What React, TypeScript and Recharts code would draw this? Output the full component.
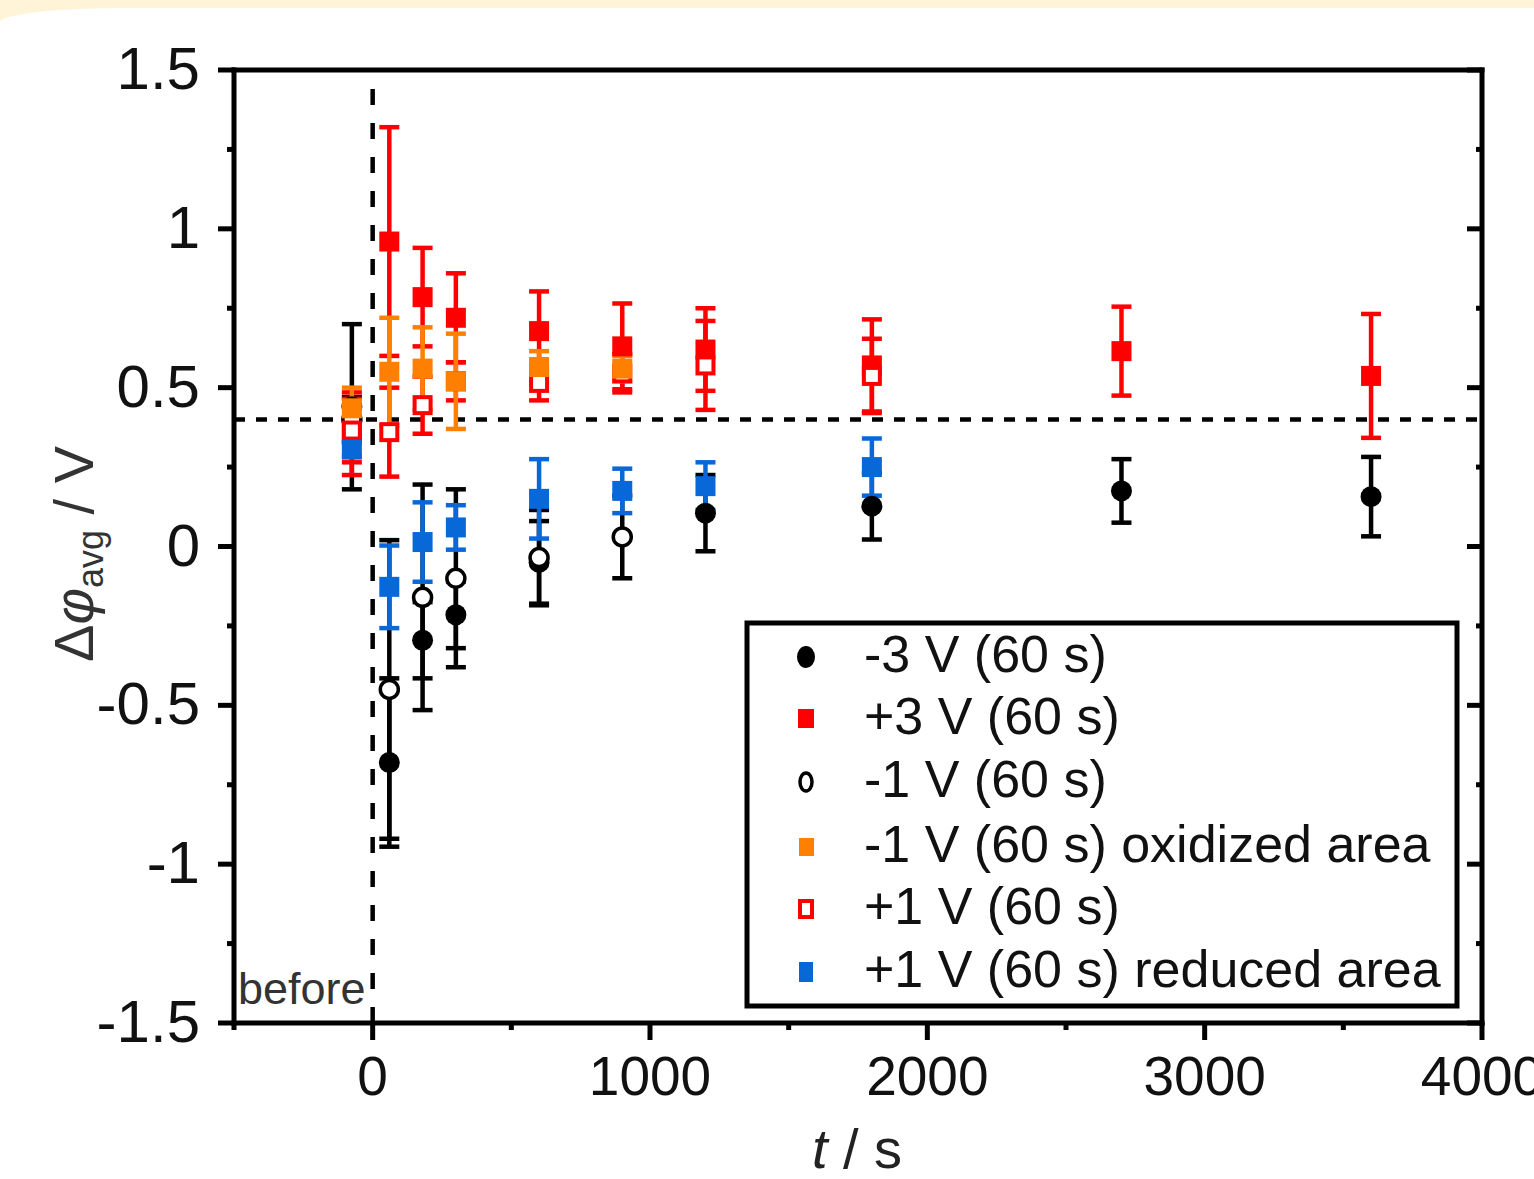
import { ScatterChart, Scatter, XAxis, YAxis, ErrorBar, ReferenceLine } from 'recharts';

// time after the voltage pulse (s); -75 is the "before" measurement
const tNeg3 = [-75, 60, 180, 300, 600, 1200, 1800, 2700, 3600];
const vNeg3 = [0.44, -0.68, -0.295, -0.215, -0.05, 0.105, 0.127, 0.175, 0.157];
const eNeg3 = [0.26, 0.265, 0.12, 0.105, 0.13, 0.12, 0.105, 0.1, 0.125];

const tPos3 = [-75, 60, 180, 300, 600, 900, 1200, 1800, 2700, 3600];
const vPos3 = [0.355, 0.96, 0.785, 0.72, 0.678, 0.63, 0.62, 0.57, 0.615, 0.537];
const ePos3 = [0.13, 0.36, 0.155, 0.14, 0.125, 0.135, 0.13, 0.145, 0.14, 0.195];

const tNeg1 = [-75, 60, 180, 300, 600, 900];
const vNeg1 = [0.4, -0.45, -0.16, -0.1, -0.035, 0.03];
const eNeg1 = [0.07, 0.47, 0.355, 0.28, 0.15, 0.13];

const tNeg1Ox = [-75, 60, 180, 300, 600, 900];
const vNeg1Ox = [0.435, 0.55, 0.56, 0.52, 0.565, 0.56];
const eNeg1Ox = [0.065, 0.17, 0.13, 0.15, 0.05, 0.04];

const tPos1 = [-75, 60, 180, 300, 600, 900, 1200, 1800];
const vPos1 = [0.365, 0.36, 0.445, 0.52, 0.515, 0.545, 0.57, 0.537];
const ePos1 = [0.1, 0.14, 0.09, 0.06, 0.055, 0.06, 0.14, 0.117];

const tPos1Red = [-75, 60, 180, 300, 600, 900, 1200, 1800];
const vPos1Red = [0.305, -0.127, 0.014, 0.06, 0.15, 0.175, 0.19, 0.25];
const ePos1Red = [0.02, 0.13, 0.125, 0.07, 0.125, 0.07, 0.075, 0.09];

const xTicks = [-500, 0, 500, 1000, 1500, 2000, 2500, 3000, 3500, 4000];
const yTicks = [-1.5, -1.25, -1, -0.75, -0.5, -0.25, 0, 0.25, 0.5, 0.75, 1, 1.25, 1.5];

const legendLabels = [
  '-3 V (60 s)',
  '+3 V (60 s)',
  '-1 V (60 s)',
  '-1 V (60 s) oxidized area',
  '+1 V (60 s)',
  '+1 V (60 s) reduced area',
];

const RED = '#ff0000';
const ORANGE = '#ff8000';
const BLUE = '#0868d8';
const FONT = '"Liberation Sans", Arial, sans-serif';
const BAR_W = 4.5;

const zip = (t: number[], v: number[], e: number[]) => t.map((x, i) => ({ t: x, v: v[i], e: e[i] }));

const filledSquare = (color: string) => (p: any) =>
  p.cx == null ? <g /> : <rect x={p.cx - 10} y={p.cy - 10} width={20} height={20} fill={color} />;
const openSquare = (color: string) => (p: any) =>
  p.cx == null ? <g /> : (
    <rect x={p.cx - 8} y={p.cy - 8} width={16} height={16} fill="#fff" stroke={color} strokeWidth={4} />
  );
const filledCircle = (p: any) => (p.cx == null ? <g /> : <circle cx={p.cx} cy={p.cy} r={10.5} fill="#000" />);
const openCircle = (p: any) =>
  p.cx == null ? <g /> : <circle cx={p.cx} cy={p.cy} r={9} fill="#fff" stroke="#000" strokeWidth={3.5} />;

const isMajorX = (v: number) => v % 1000 === 0;
const isMajorY = (v: number) => Math.abs(v * 2 - Math.round(v * 2)) < 1e-9;

const BottomTick = ({ x, y, payload }: any) => {
  const major = isMajorX(payload.value);
  return (
    <g>
      <line x1={x} y1={y} x2={x} y2={y + (major ? 17 : 7)} stroke="#000" strokeWidth={5} />
      {major && (
        <text x={x} y={y + 72} textAnchor="middle" fontSize={55} fontFamily={FONT} fill="#111">
          {payload.value}
        </text>
      )}
    </g>
  );
};

const TopTick = ({ x, y, payload }: any) => (
  <line x1={x} y1={y} x2={x} y2={y + (isMajorX(payload.value) ? 15 : 6)} stroke="#000" strokeWidth={5} />
);

const LeftTick = ({ x, y, payload }: any) => {
  const major = isMajorY(payload.value);
  return (
    <g>
      <line x1={x} y1={y} x2={x - (major ? 16 : 7)} y2={y} stroke="#000" strokeWidth={5} />
      {major && (
        <text x={x - 34} y={y + 19} textAnchor="end" fontSize={60} fontFamily={FONT} fill="#111">
          {String(payload.value)}
        </text>
      )}
    </g>
  );
};

const RightTick = ({ x, y, payload }: any) => (
  <line x1={x} y1={y} x2={x - (isMajorY(payload.value) ? 15 : 6)} y2={y} stroke="#000" strokeWidth={5} />
);

const axisLine = { stroke: '#000', strokeWidth: 5, strokeLinecap: 'square' as const };

const LegendMarker = ({ i, cx, cy }: { i: number; cx: number; cy: number }) => {
  if (i === 0) return <ellipse cx={cx} cy={cy} rx={9} ry={11} fill="#000" />;
  if (i === 1) return <rect x={cx - 8} y={cy - 10} width={16} height={19} fill={RED} />;
  if (i === 2) return <ellipse cx={cx} cy={cy} rx={6} ry={9} fill="#fff" stroke="#000" strokeWidth={3.5} />;
  if (i === 3) return <rect x={cx - 7} y={cy - 9} width={15} height={18} fill={ORANGE} />;
  if (i === 4) return <rect x={cx - 6} y={cy - 8} width={12} height={16} fill="#fff" stroke={RED} strokeWidth={4} />;
  return <rect x={cx - 7} y={cy - 10} width={14} height={20} fill={BLUE} />;
};

const legendRows = [654, 716, 779, 844, 906, 969];

export default function App() {
  return (
    <div
      style={{
        position: 'absolute',
        left: 0,
        top: 0,
        width: 1534,
        height: 1179,
        background: '#fff4d8',
        overflow: 'hidden',
      }}
    >
      <div
        style={{
          position: 'absolute',
          left: 0,
          top: 8,
          width: 1534,
          height: 1171,
          background: '#fff',
          borderTopLeftRadius: '130px 14px',
        }}
      />
      <div style={{ position: 'absolute', left: 0, top: 0 }}>
        <ScatterChart width={1534} height={1179} margin={{ top: 69, right: 51, bottom: 155, left: 233 }}>
          <XAxis
            dataKey="t"
            type="number"
            domain={[-500, 4000]}
            ticks={xTicks}
            interval={0}
            height={1}
            tickSize={0}
            tickMargin={0}
            tickLine={false}
            axisLine={axisLine}
            tick={<BottomTick />}
            allowDataOverflow
          />
          <XAxis
            xAxisId="top"
            orientation="top"
            type="number"
            domain={[-500, 4000]}
            ticks={xTicks}
            interval={0}
            height={1}
            tickSize={0}
            tickMargin={0}
            tickLine={false}
            axisLine={axisLine}
            tick={<TopTick />}
            allowDataOverflow
          />
          <YAxis
            dataKey="v"
            type="number"
            domain={[-1.5, 1.5]}
            ticks={yTicks}
            interval={0}
            width={1}
            tickSize={0}
            tickMargin={0}
            tickLine={false}
            axisLine={axisLine}
            tick={<LeftTick />}
            allowDataOverflow
          />
          <YAxis
            yAxisId="right"
            orientation="right"
            type="number"
            domain={[-1.5, 1.5]}
            ticks={yTicks}
            interval={0}
            width={1}
            tickSize={0}
            tickMargin={0}
            tickLine={false}
            axisLine={axisLine}
            tick={<RightTick />}
            allowDataOverflow
          />
          <ReferenceLine y={0.4} stroke="#000" strokeWidth={4.5} strokeDasharray="11 11" />
          <ReferenceLine x={0} stroke="#000" strokeWidth={4.5} strokeDasharray="16 18" />

          <Scatter data={zip(tNeg3, vNeg3, eNeg3)} dataKey="v" shape={filledCircle} isAnimationActive={false}>
            <ErrorBar dataKey="e" direction="y" width={10} stroke="#000" strokeWidth={BAR_W} />
          </Scatter>
          <Scatter data={zip(tNeg1, vNeg1, eNeg1)} dataKey="v" shape={openCircle} isAnimationActive={false}>
            <ErrorBar dataKey="e" direction="y" width={10} stroke="#000" strokeWidth={BAR_W} />
          </Scatter>
          <Scatter data={zip(tPos3, vPos3, ePos3)} dataKey="v" shape={filledSquare(RED)} isAnimationActive={false}>
            <ErrorBar dataKey="e" direction="y" width={10} stroke={RED} strokeWidth={BAR_W} />
          </Scatter>
          <Scatter data={zip(tPos1, vPos1, ePos1)} dataKey="v" shape={openSquare(RED)} isAnimationActive={false}>
            <ErrorBar dataKey="e" direction="y" width={10} stroke={RED} strokeWidth={BAR_W} />
          </Scatter>
          <Scatter
            data={zip(tNeg1Ox, vNeg1Ox, eNeg1Ox)}
            dataKey="v"
            shape={filledSquare(ORANGE)}
            isAnimationActive={false}
          >
            <ErrorBar dataKey="e" direction="y" width={10} stroke={ORANGE} strokeWidth={BAR_W} />
          </Scatter>
          <Scatter
            data={zip(tPos1Red, vPos1Red, ePos1Red)}
            dataKey="v"
            shape={filledSquare(BLUE)}
            isAnimationActive={false}
          >
            <ErrorBar dataKey="e" direction="y" width={10} stroke={BLUE} strokeWidth={BAR_W} />
          </Scatter>
        </ScatterChart>
      </div>

      <svg
        width={1534}
        height={1179}
        style={{ position: 'absolute', left: 0, top: 0, pointerEvents: 'none' }}
        fontFamily={FONT}
      >
        <text x={238} y={1004} fontSize={45} fill="#333">
          before
        </text>

        <rect x={747} y={623} width={710} height={383} fill="#fff" stroke="#000" strokeWidth={5} />
        {legendLabels.map((label, i) => (
          <g key={label}>
            <LegendMarker i={i} cx={806} cy={legendRows[i] + 3} />
            <text x={864} y={legendRows[i] + 18} fontSize={52} fill="#111">
              {label}
            </text>
          </g>
        ))}

        <text x={857} y={1168} textAnchor="middle" fontSize={56} fill="#222">
          <tspan fontStyle="italic">t</tspan> / s
        </text>

        <text transform="translate(93,662) rotate(-90)" fontSize={56} fill="#333">
          <tspan>Δ</tspan>
          <tspan fontStyle="italic">φ</tspan>
          <tspan fontSize={36} dy={10}>
            avg
          </tspan>
          <tspan dy={-10}> / V</tspan>
        </text>
      </svg>
    </div>
  );
}
